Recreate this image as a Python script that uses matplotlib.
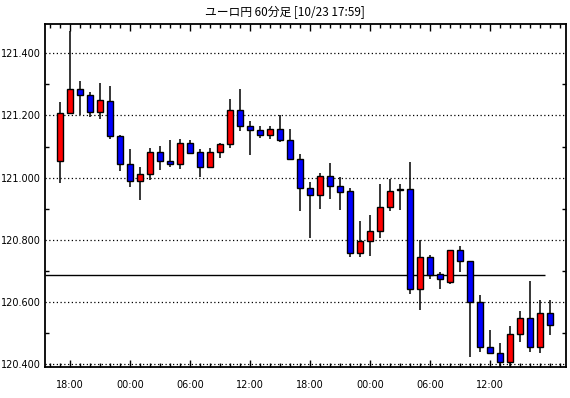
import numpy as np
import matplotlib.pyplot as plt
from matplotlib.ticker import MultipleLocator, FixedLocator

plt.rcParams['font.family'] = ['Noto Sans CJK JP', 'DejaVu Sans']

# hourly OHLC, EUR/JPY
opens = [121.053, 121.207, 121.284, 121.266, 121.212, 121.245, 121.133, 121.043, 120.988, 121.010,
         121.081, 121.055, 121.043, 121.110, 121.084, 121.033, 121.081, 121.107, 121.216, 121.165,
         121.152, 121.136, 121.155, 121.120, 121.059, 120.965, 120.943, 121.004, 120.972, 120.956,
         120.756, 120.795, 120.827, 120.904, 120.959, 120.964, 120.643, 120.743, 120.689, 120.664,
         120.766, 120.733, 120.598, 120.456, 120.437, 120.408, 120.495, 120.547, 120.456, 120.563]
highs = [121.243, 121.473, 121.310, 121.274, 121.303, 121.295, 121.136, 121.091, 121.033, 121.094,
         121.101, 121.121, 121.123, 121.120, 121.091, 121.094, 121.110, 121.252, 121.284, 121.181,
         121.165, 121.165, 121.201, 121.155, 121.076, 120.985, 121.014, 121.047, 121.001, 120.965,
         120.860, 120.879, 120.980, 120.995, 120.979, 121.050, 120.798, 120.750, 120.695, 120.766,
         120.779, 120.733, 120.622, 120.511, 120.469, 120.523, 120.570, 120.667, 120.605, 120.605]
lows = [120.983, 121.205, 121.200, 121.194, 121.189, 121.123, 121.020, 120.970, 120.929, 120.992,
        121.026, 121.035, 121.028, 121.075, 121.001, 121.030, 121.064, 121.094, 121.151, 121.073,
        121.129, 121.125, 121.113, 121.059, 120.893, 120.807, 120.900, 120.932, 120.895, 120.745,
        120.745, 120.747, 120.806, 120.893, 120.895, 120.626, 120.574, 120.673, 120.641, 120.658,
        120.696, 120.423, 120.439, 120.434, 120.388, 120.394, 120.471, 120.440, 120.437, 120.494]
closes = [121.207, 121.284, 121.265, 121.212, 121.249, 121.133, 121.043, 120.988, 121.010, 121.081,
          121.055, 121.043, 121.110, 121.078, 121.033, 121.081, 121.107, 121.216, 121.165, 121.152,
          121.136, 121.155, 121.120, 121.059, 120.965, 120.943, 121.004, 120.972, 120.954, 120.756,
          120.795, 120.827, 120.904, 120.956, 120.964, 120.643, 120.743, 120.685, 120.674, 120.766,
          120.732, 120.598, 120.455, 120.436, 120.408, 120.495, 120.547, 120.456, 120.563, 120.524]

hour_labels = ['18:00', '00:00', '06:00', '12:00', '18:00', '00:00', '06:00', '12:00']
label_idx = [1, 7, 13, 19, 25, 31, 37, 43]
ref_price = 120.685
title = 'ユーロ円 60分足 [10/23 17:59]'

o = np.array(opens)
h = np.array(highs)
l = np.array(lows)
c = np.array(closes)
x = np.arange(len(o))
up = c >= o
colors = np.where(up, '#ff0000', '#0000ff')

fig = plt.figure(figsize=(5.7, 3.98), dpi=100)
ax = fig.add_axes([45 / 570, 1 - 366.5 / 398, 521 / 570, 342.5 / 398])

# grid
for v in np.arange(120.4, 121.41, 0.2):
    ax.axhline(v, color='black', linestyle=(0, (1, 2)), linewidth=0.9, zorder=1)

# reference line
ax.hlines(ref_price, -1.5, 48.5, color='black', linewidth=1.0, zorder=2)

# wicks and bodies
ax.vlines(x, l, h, color='black', linewidth=1.1, zorder=3)
body_h = np.abs(c - o)
body_h = np.maximum(body_h, 0.002)
ax.bar(x, body_h, bottom=np.minimum(o, c), width=0.62, color=colors,
       edgecolor='black', linewidth=1.0, zorder=4)

ax.set_xlim(-1.5, 50.6)
ax.set_ylim(120.392, 121.4944)

# y axis
ax.yaxis.set_major_locator(FixedLocator([120.4, 120.6, 120.8, 121.0, 121.2, 121.4]))
ax.yaxis.set_minor_locator(MultipleLocator(0.1))
ax.set_yticklabels(['120.400', '120.600', '120.800', '121.000', '121.200', '121.400'],
                   fontsize=7, family='DejaVu Sans')

# x axis
ax.xaxis.set_major_locator(FixedLocator(label_idx))
ax.xaxis.set_minor_locator(MultipleLocator(1))
ax.set_xticklabels(hour_labels, fontsize=7, family='DejaVu Sans')

ax.tick_params(axis='both', which='both', direction='in', top=True, right=True, color='black')
ax.tick_params(axis='x', which='major', length=5, width=1, pad=10)
ax.tick_params(axis='x', which='minor', length=3, width=1)
ax.tick_params(axis='y', which='major', length=0, pad=3)
ax.tick_params(axis='y', which='minor', length=3, width=1)

for s in ax.spines.values():
    s.set_linewidth(1.3)

fig.text(0.5, 1 - 12 / 398, title, ha='center', va='center', fontsize=8.5)

fig.savefig('out.png', dpi=100)
